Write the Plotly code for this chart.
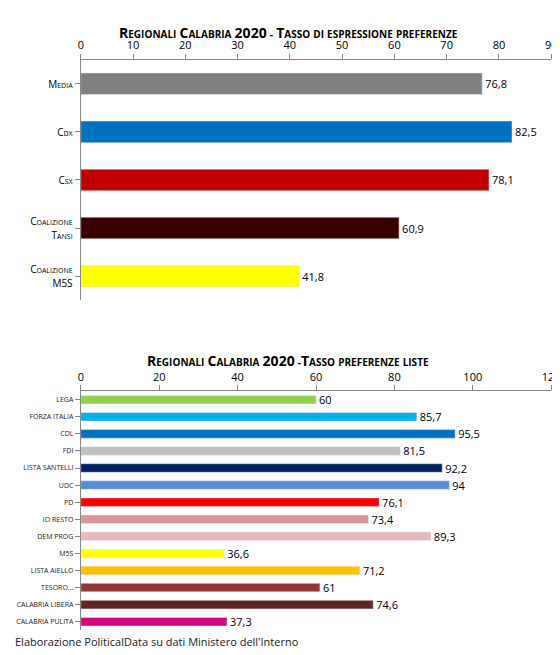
import plotly.graph_objects as go

top_cats = ["Media", "Cdx", "Csx", "Coalizione Tansi", "Coalizione M5S"]
top_vals = [76.8, 82.5, 78.1, 60.9, 41.8]
top_colors = ["#808080", "#0070C0", "#C00000", "#3A0000", "#FFFF00"]

bot_cats = ["LEGA", "FORZA ITALIA", "CDL", "FDI", "LISTA SANTELLI", "UDC", "PD", "IO RESTO",
            "DEM PROG", "M5S", "LISTA AIELLO", "TESORO...", "CALABRIA LIBERA", "CALABRIA PULITA"]
bot_vals = [60, 85.7, 95.5, 81.5, 92.2, 94, 76.1, 73.4, 89.3, 36.6, 71.2, 61, 74.6, 37.3]
bot_colors = ["#92D050", "#00B0F0", "#0070C0", "#BFBFBF", "#002060", "#558ED5", "#FF0000", "#D99694",
              "#E6B9B8", "#FFFF00", "#FFC000", "#953735", "#632523", "#D0087F"]

FONT = "Open Sans"

def sc(text, big=11, small=8):
    out = []
    for word in text.split(" "):
        w = ""
        for ch in word:
            if ch.isupper() or ch.isdigit():
                w += f"<span style='font-size:{big}px'>{ch}</span>"
            else:
                w += f"<span style='font-size:{small}px'>{ch.upper()}</span>"
        out.append(w)
    return " ".join(out)

top_labels = [sc("Media", 10, 7), sc("Cdx", 10, 7), sc("Csx", 10, 7),
              sc("Coalizione", 10, 7) + "<br>" + sc("Tansi", 10, 7),
              sc("Coalizione", 10, 7) + "<br>" + sc("M5S", 10, 7)]

def fmt(v):
    return (f"{v:g}").replace(".", ",")

fig = go.Figure()
fig.add_trace(go.Bar(x=top_vals, y=top_cats, orientation="h", marker_color=top_colors,
                     width=0.45, text=[fmt(v) for v in top_vals], textposition="outside",
                     constraintext="none",
                     textfont=dict(size=11, color="black"), cliponaxis=False,
                     xaxis="x", yaxis="y"))
fig.add_trace(go.Bar(x=bot_vals, y=bot_cats, orientation="h", marker_color=bot_colors,
                     width=0.5, text=[fmt(v) for v in bot_vals], textposition="outside",
                     constraintext="none",
                     textfont=dict(size=11, color="black"), cliponaxis=False,
                     xaxis="x2", yaxis="y2"))

axis_common = dict(showgrid=False, showline=True, linecolor="#868686", ticks="outside",
                   tickcolor="#868686", ticklen=5, zeroline=False, automargin=False,
                   tickfont=dict(size=11, color="black", family=FONT))

fig.update_layout(
    width=560, height=655, margin=dict(l=0, r=0, t=0, b=0),
    paper_bgcolor="white", plot_bgcolor="white", showlegend=False,
    font=dict(family=FONT, color="black"),
    xaxis=dict(domain=[0.130, 0.970], range=[0, 90], dtick=10, side="top", anchor="y", **axis_common),
    yaxis=dict(domain=[0.554, 0.921], categoryorder="array", categoryarray=top_cats[::-1],
               tickvals=top_cats, ticktext=top_labels, anchor="x", **axis_common),
    xaxis2=dict(domain=[0.130, 0.970], range=[0, 120], dtick=20, side="top", anchor="y2", **axis_common),
    yaxis2=dict(domain=[0.050, 0.415], categoryorder="array", categoryarray=bot_cats[::-1],
                anchor="x2", **{**axis_common, "tickfont": dict(size=7, color="#222", family=FONT)}),
    annotations=[
        dict(text="<b>" + sc("Regionali Calabria 2020 - Tasso di espressione preferenze", 14, 10) + "</b>",
             x=0.5, y=1 - 13 / 655, xref="paper", yref="paper", showarrow=False),
        dict(text="<b>" + sc("Regionali Calabria 2020 -Tasso preferenze liste", 14, 10) + "</b>",
             x=0.5, y=1 - 352 / 655, xref="paper", yref="paper", showarrow=False),
        dict(text="Elaborazione PoliticalData su dati Ministero dell'Interno",
             x=5 / 560, y=1 - 643 / 655, xref="paper", yref="paper", xanchor="left",
             showarrow=False, font=dict(size=11, color="#222")),
    ],
)
fig.write_html("out.html")
